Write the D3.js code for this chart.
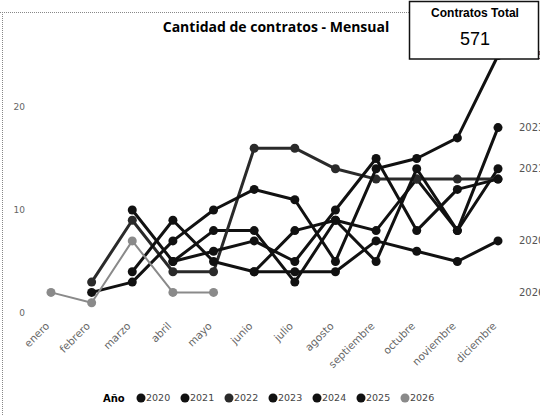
<!DOCTYPE html>
<html>
<head>
<meta charset="utf-8">
<script src="https://cdn.jsdelivr.net/npm/d3@7"></script>
<style>
  body { margin: 0; background: #fff; }
  svg { display: block; }
</style>
</head>
<body>
<div id="chart"></div>
<script>
// meses del eje X
const months = ["enero", "febrero", "marzo", "abril", "mayo", "junio", "julio",
  "agosto", "septiembre", "octubre", "noviembre", "diciembre"];
const years = ["2020", "2021", "2022", "2023", "2024", "2025", "2026"];

// contratos por mes (null = sin dato)
const v2020 = [null, null, null, null, null, 4, 4, 4, 7, 6, 5, 7];
const v2021 = [null, null, 10, 5, 8, 8, 3, 9, 8, 13, 8, 14];
const v2022 = [null, 3, 9, 4, 4, 16, 16, 14, 13, 13, 13, 13];
const v2023 = [null, null, 4, 9, 5, 4, 8, 9, 5, 14, 8, 18];
const v2024 = [null, null, null, 5, 6, 7, 5, 10, 15, 8, 12, 13];
const v2025 = [null, 2, 3, 7, 10, 12, 11, 5, 14, 15, 17, 25];
const v2026 = [2, 1, 7, 2, 2, null, null, null, null, null, null, null];

const yTicks = [0, 10, 20];
const totalLabel = "Contratos Total";
const totalValue = "571";
const endLabels = ["2025", "2023", "2021", "2020", "2026"];

const seriesValues = [v2020, v2021, v2022, v2023, v2024, v2025, v2026];
const colors = ["#111", "#111", "#2a2a2a", "#111", "#111", "#111", "#8a8a8a"];

const width = 540, height = 416;

const svg = d3.select("#chart").append("svg")
  .attr("width", width)
  .attr("height", height);

// borde punteado del visual
svg.append("line")
  .attr("x1", 0).attr("x2", 410).attr("y1", 12.5).attr("y2", 12.5)
  .attr("stroke", "#888").attr("stroke-dasharray", "1,1");
svg.append("line")
  .attr("x1", 2.5).attr("x2", 2.5).attr("y1", 12).attr("y2", height)
  .attr("stroke", "#888").attr("stroke-dasharray", "1,1");

// titulo
svg.append("text")
  .attr("x", 276).attr("y", 32)
  .attr("text-anchor", "middle")
  .attr("font-family", "Open Sans, sans-serif")
  .attr("font-weight", "bold")
  .attr("font-size", 14)
  .text("Cantidad de contratos - Mensual");

const x = d3.scalePoint()
  .domain(months)
  .range([51, 498]);

const y = d3.scaleLinear()
  .domain([0, 20])
  .range([313, 107]);

// eje Y (solo etiquetas)
const yAxis = svg.append("g")
  .attr("transform", "translate(25,0)")
  .call(d3.axisLeft(y).tickValues(yTicks).tickSize(0).tickPadding(0));
yAxis.select(".domain").remove();
yAxis.selectAll("text")
  .attr("font-family", "DejaVu Sans, sans-serif")
  .attr("font-size", 9)
  .attr("fill", "#666");

// eje X con etiquetas giradas
const xAxis = svg.append("g")
  .attr("transform", "translate(0,318)")
  .call(d3.axisBottom(x).tickSize(0).tickPadding(0));
xAxis.select(".domain").remove();
xAxis.selectAll("text")
  .attr("font-family", "DejaVu Sans, sans-serif")
  .attr("font-size", 10.5)
  .attr("fill", "#666")
  .attr("text-anchor", "end")
  .attr("dy", "0.35em")
  .attr("transform", "translate(-4,6) rotate(-45)");

const line = d3.line()
  .defined(d => d.v != null)
  .x(d => x(d.m))
  .y(d => y(d.v));

seriesValues.forEach(function (vals, i) {
  const data = months.map((m, j) => ({ m: m, v: vals[j] }));
  const g = svg.append("g");
  g.append("path")
    .datum(data)
    .attr("fill", "none")
    .attr("stroke", colors[i])
    .attr("stroke-width", i === 6 ? 2 : 3)
    .attr("stroke-linejoin", "round")
    .attr("d", line);
  g.selectAll("circle")
    .data(data.filter(d => d.v != null))
    .join("circle")
    .attr("cx", d => x(d.m))
    .attr("cy", d => y(d.v))
    .attr("r", 4.5)
    .attr("fill", colors[i]);
});

// etiquetas al final de cada serie
endLabels.forEach(function (yr) {
  const vals = seriesValues[years.indexOf(yr)];
  let last = vals.length - 1;
  while (vals[last] == null) last--;
  svg.append("text")
    .attr("x", 519)
    .attr("y", y(vals[last]))
    .attr("dy", "0.35em")
    .attr("font-family", "DejaVu Sans, sans-serif")
    .attr("font-size", 10)
    .attr("fill", "#555")
    .text(yr);
});

// tarjeta con el total
const card = svg.append("g");
card.append("rect")
  .attr("x", 409.5).attr("y", 1.5)
  .attr("width", 129).attr("height", 57.5)
  .attr("fill", "#fff")
  .attr("stroke", "#111")
  .attr("stroke-width", 1.5);
card.append("text")
  .attr("x", 475).attr("y", 17)
  .attr("text-anchor", "middle")
  .attr("font-family", "Liberation Sans, Arial, sans-serif")
  .attr("font-weight", "bold")
  .attr("font-size", 12)
  .text(totalLabel);
card.append("text")
  .attr("x", 475).attr("y", 45)
  .attr("text-anchor", "middle")
  .attr("font-family", "Liberation Sans, Arial, sans-serif")
  .attr("font-size", 18)
  .text(totalValue);

// leyenda
const legend = svg.append("g").attr("transform", "translate(0,398)");
legend.append("text")
  .attr("x", 103).attr("y", 0)
  .attr("dy", "0.35em")
  .attr("font-family", "DejaVu Sans, sans-serif")
  .attr("font-weight", "bold")
  .attr("font-size", 10)
  .text("Año");
years.forEach(function (yr, i) {
  const lx = 141 + i * 44;
  legend.append("circle")
    .attr("cx", lx).attr("cy", 0).attr("r", 4.5)
    .attr("fill", colors[i]);
  legend.append("text")
    .attr("x", lx + 5).attr("y", 0)
    .attr("dy", "0.35em")
    .attr("font-family", "DejaVu Sans, sans-serif")
    .attr("font-size", 9.5)
    .attr("fill", "#444")
    .text(yr);
});
</script>
</body>
</html>
